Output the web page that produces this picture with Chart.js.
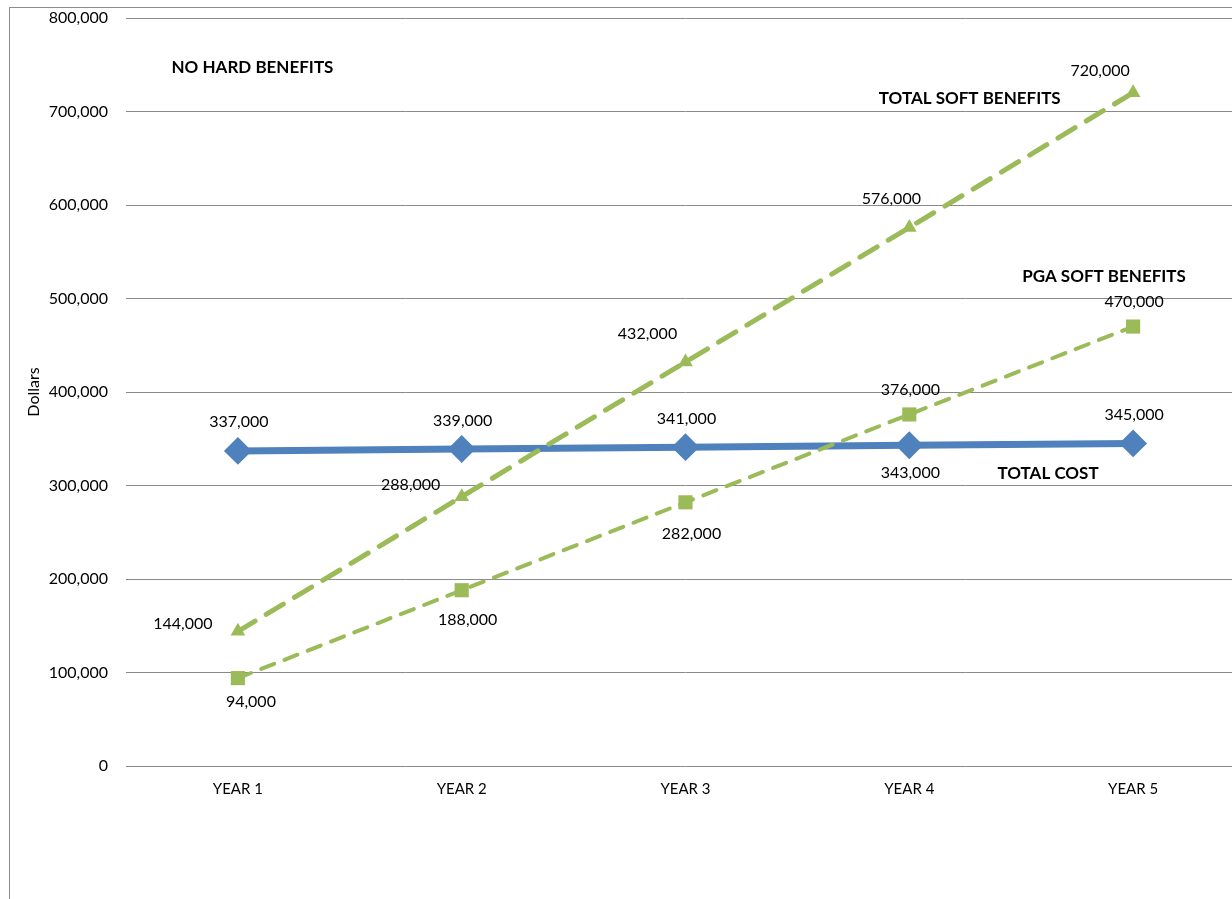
<!DOCTYPE html>
<html>
<head>
<meta charset="utf-8">
<script src="https://cdn.jsdelivr.net/npm/chart.js@4/dist/chart.umd.min.js"></script>
<style>
  html, body { margin: 0; padding: 0; background: #fff; overflow: hidden; }
  #frame {
    position: absolute; left: 9px; top: 7px;
    width: 1260px; height: 900px;
    border: 1px solid #8c8c8c;
  }
  #chart { display: block; }
</style>
</head>
<body>
<div id="frame"><canvas id="chart" width="1250" height="892"></canvas></div>
<script>
// eixo X
const anos = ["YEAR 1", "YEAR 2", "YEAR 3", "YEAR 4", "YEAR 5"];

// series
const custoTotal = [337000, 339000, 341000, 343000, 345000];
const softTotal = [144000, 288000, 432000, 576000, 720000];
const softPga = [94000, 188000, 282000, 376000, 470000];

// deslocamento dos rotulos de valor (px) para cada ponto
const offCusto = [[1, -29], [1, -28], [1, -28], [1, 28], [1, -29]];
const offSoft = [[-55, -8], [-51, -12], [-38, -28], [-18, -29], [-33, -22]];
const offPga = [[13, 24], [6, 30], [6, 32], [1, -25], [1, -25]];

// textos soltos dentro do grafico: [texto, indice do ano, valor]
const notas = [
  ["NO HARD BENEFITS", 0.065, 747000],
  ["TOTAL SOFT BENEFITS", 3.27, 714000],
  ["PGA SOFT BENEFITS", 3.87, 524000],
  ["TOTAL COST", 3.62, 313000],
];

const AZUL = "#4F81BD";
const VERDE = "#9BBB59";
const FONTE = "Lato, 'Open Sans', sans-serif";

const fmt = (v) => v.toLocaleString("en-US");

// desenha os valores e as notas
const rotulos = {
  id: "rotulos",
  afterDatasetsDraw(chart) {
    const ctx = chart.ctx;
    const offs = [offCusto, offSoft, offPga];
    ctx.save();
    ctx.fillStyle = "#000";
    ctx.textAlign = "center";
    ctx.textBaseline = "middle";
    ctx.font = "16px " + FONTE;
    chart.data.datasets.forEach((ds, d) => {
      const meta = chart.getDatasetMeta(d);
      meta.data.forEach((p, i) => {
        const o = offs[d][i];
        ctx.fillText(fmt(ds.data[i]), p.x + o[0], p.y + o[1]);
      });
    });
    const x = chart.scales.x, y = chart.scales.y;
    ctx.font = "bold 17px " + FONTE;
    notas.forEach((n) => {
      ctx.fillText(n[0], x.getPixelForValue(n[1]), y.getPixelForValue(n[2]));
    });
    ctx.restore();
  },
};

const data = {
  labels: anos,
  datasets: [
    {
      label: "TOTAL COST",
      data: custoTotal,
      borderColor: AZUL,
      backgroundColor: AZUL,
      borderWidth: 7,
      pointStyle: "rectRot",
      pointRadius: 9,
      pointHoverRadius: 9,
      order: 3,
    },
    {
      label: "TOTAL SOFT BENEFITS",
      data: softTotal,
      borderColor: VERDE,
      backgroundColor: VERDE,
      borderWidth: 5,
      borderDash: [20, 13],
      borderCapStyle: "round",
      pointStyle: "triangle",
      pointRadius: 8.5,
      pointBorderWidth: 0,
      order: 1,
    },
    {
      label: "PGA SOFT BENEFITS",
      data: softPga,
      borderColor: VERDE,
      backgroundColor: VERDE,
      borderWidth: 4,
      borderDash: [14, 11],
      borderCapStyle: "round",
      pointStyle: "rect",
      pointRadius: 10,
      pointBorderWidth: 0,
      order: 2,
    },
  ],
};

const config = {
  type: "line",
  data,
  plugins: [rotulos],
  options: {
    responsive: false,
    animation: false,
    layout: { autoPadding: false, padding: { top: 10, right: 15, bottom: 0, left: 0 } },
    plugins: {
      legend: { display: false },
      tooltip: { enabled: false },
    },
    elements: { line: { tension: 0 } },
    scales: {
      x: {
        offset: true,
        grid: { display: false, drawTicks: false },
        border: { display: false },
        ticks: { color: "#000", padding: 14, font: { family: FONTE, size: 15 } },
        afterFit: (s) => { s.height = 134; },
      },
      y: {
        min: 0,
        max: 800000,
        ticks: {
          stepSize: 100000,
          color: "#000",
          padding: 18,
          font: { family: FONTE, size: 16 },
          callback: (v) => fmt(v),
        },
        grid: { color: "#8a8a8a", lineWidth: 1, drawTicks: false },
        border: { display: false },
        title: {
          display: true,
          text: "Dollars",
          color: "#000",
          font: { family: FONTE, size: 16 },
          padding: { top: 14, bottom: 0 },
        },
        afterFit: (s) => {
          s.width = 116;
          s.paddingTop = 0;
          s.paddingBottom = 0;
        },
      },
    },
  },
};

const ctx = document.getElementById("chart");
const meuGrafico = new Chart(ctx, config);
</script>
</body>
</html>
